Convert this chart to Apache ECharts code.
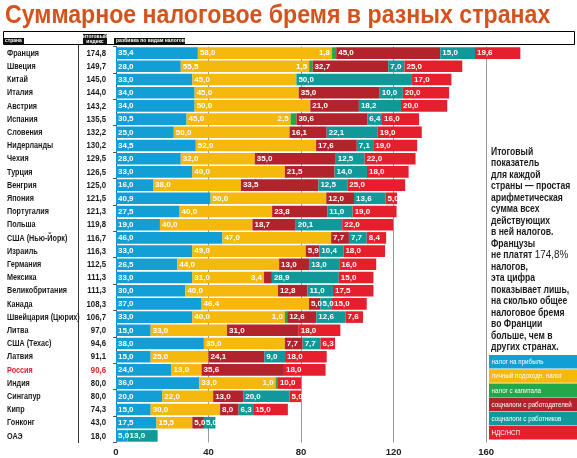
<!DOCTYPE html>
<html><head><meta charset="utf-8">
<script src="https://cdn.jsdelivr.net/npm/echarts@6/dist/echarts.min.js"></script>
<style>html,body{margin:0;padding:0;background:#fff}#c{width:577px;height:458px}</style>
</head><body><div id="c"></div>
<script>
const countries = ['Франция','Швеция','Китай','Италия','Австрия','Испания','Словения','Нидерланды','Чехия','Турция','Венгрия','Япония','Португалия','Польша','США (Нью-Йорк)','Израиль','Германия','Мексика','Великобритания','Канада','Швейцария (Цюрих)','Литва','США (Техас)','Латвия','Россия','Индия','Сингапур','Кипр','Гонконг','ОАЭ'];
const totals = [174.8,149.7,145.0,144.0,143.2,135.5,132.2,130.2,129.5,126.5,125.0,121.5,121.3,119.8,116.7,116.3,112.5,111.3,111.3,108.3,106.7,97.0,94.6,91.1,90.6,80.0,80.0,74.3,43.0,18.0];
const profitTax   = [35.4,28.0,33.0,34.0,34.0,30.5,25.0,34.5,28.0,33.0,16.0,40.9,27.5,19.0,46.0,33.0,26.5,33.0,30.0,37.0,33.0,15.0,38.0,15.0,24.0,36.0,20.0,15.0,17.5,5.0];
const incomeTax   = [58.0,55.5,45.0,45.0,50.0,45.0,50.0,52.0,32.0,40.0,38.0,50.0,40.0,40.0,47.0,49.0,44.0,31.0,40.0,46.4,40.0,33.0,35.0,25.0,13.0,33.0,22.0,30.0,15.5,0];
const capitalTax  = [1.8,1.5,0,0,0,2.5,0,0,0,0,0,0,0,0,0,0,0,0,0,0,1.0,0,0,0,0,1.0,0,0,0,0];
const employerTax = [45.0,32.7,0,35.0,21.0,30.6,16.1,17.6,35.0,21.5,33.5,12.0,23.8,18.7,7.7,5.9,13.0,3.4,12.8,5.0,12.6,31.0,7.7,24.1,35.6,0,13.0,8.0,5.0,0];
const employeeTax = [15.0,7.0,50.0,10.0,18.2,6.4,22.1,7.1,12.5,14.0,12.5,13.6,11.0,20.1,7.7,10.4,13.0,28.9,11.0,5.0,12.6,0,7.7,9.0,0,0,20.0,6.3,5.0,13.0];
const vatTax      = [19.6,25.0,17.0,20.0,20.0,16.0,19.0,19.0,22.0,18.0,25.0,5.0,19.0,22.0,8.4,18.0,16.0,15.0,17.5,15.0,7.6,18.0,6.3,18.0,18.0,10.0,5.0,15.0,0,0];
const seriesNames = ['налог на прибыль','личный подоходн. налог','налог с капитала','соцналоги с работодателей','соцналоги с работников','НДС/НСП'];
const xTicks = [0,40,80,120,160];
const note = ['Итоговый','показатель','для каждой','страны — простая','арифметическая','сумма всех','действующих','в ней налогов.','Французы','не платят {b|174,8%}','налогов,','эта цифра','показывает лишь,','на сколько общее','налоговое бремя','во Франции','больше, чем в','других странах.'];

const colors = ['#129fd6','#f5b80c','#20a84b','#b3232b','#11999a','#e5202c'];
const seriesData = [profitTax, incomeTax, capitalTax, employerTax, employeeTax, vatTax];
const FONT = '"Liberation Sans",Arial,sans-serif';
const fmt = v => v.toFixed(1).replace('.', ',');

const series = seriesData.map((arr, si) => ({
  name: seriesNames[si],
  type: 'bar',
  stack: 'tax',
  barCategoryGap: '12%',
  itemStyle: { color: colors[si] },
  label: {
    show: true, position: 'insideLeft', distance: 2,
    color: '#fff', fontFamily: FONT, fontWeight: 'bold', fontSize: 8,
    formatter: p => fmt(p.value)
  },
  data: arr.map(v => {
    if (!v) return { value: 0, label: { show: false } };
    if (v < 4) return { value: v, label: { position: 'left', distance: 2 } };
    return v;
  })
}));

// table column (country name + total) placed through the category axis
series.push({
  type: 'custom',
  silent: true,
  clip: false,
  encode: { x: 0, y: 1 },
  data: countries.map((c, i) => [0, i]),
  renderItem: (params, api) => {
    const i = api.value(1);
    const y = api.coord([0, i])[1];
    const col = countries[i] === 'Россия' ? '#d8232e' : '#1a1a1a';
    return {
      type: 'group',
      children: [
        { type: 'text', x: 7, y: y, scaleX: 0.76, style: { text: countries[i], fill: col, font: 'bold 9.5px ' + FONT, verticalAlign: 'middle', align: 'left' } },
        { type: 'text', x: 106, y: y, scaleX: 0.82, style: { text: fmt(totals[i]), fill: col, font: 'bold 9.5px ' + FONT, verticalAlign: 'middle', align: 'right' } }
      ]
    };
  }
});

const g = [];
g.push({ type: 'text', x: 5, y: 3, scaleX: 0.89, style: { text: 'Суммарное налоговое бремя в разных странах', fill: '#d4521c', font: 'bold 26px ' + FONT } });
g.push({ type: 'rect', shape: { x: 3.5, y: 31.5, width: 571, height: 13 }, style: { fill: 'none', stroke: '#000', lineWidth: 1 } });
g.push({ type: 'rect', shape: { x: 4, y: 38, width: 20, height: 6 }, style: { fill: '#111' } });
g.push({ type: 'text', x: 5, y: 38.5, style: { text: 'страна', fill: '#fff', font: 'bold 5px ' + FONT } });
g.push({ type: 'rect', shape: { x: 83, y: 34, width: 24, height: 10 }, style: { fill: '#111' } });
g.push({ type: 'text', x: 95, y: 34, style: { text: 'итоговый\nиндекс', fill: '#fff', font: 'bold 5px ' + FONT, align: 'center', lineHeight: 5 } });
g.push({ type: 'rect', shape: { x: 114, y: 38, width: 71, height: 6 }, style: { fill: '#111' } });
g.push({ type: 'text', x: 116, y: 38.5, style: { text: 'разбивка по видам налогов', fill: '#fff', font: 'bold 5px ' + FONT } });
g.push({ type: 'line', shape: { x1: 78.5, y1: 45, x2: 78.5, y2: 443 }, style: { stroke: '#333', lineWidth: 1 } });
g.push({ type: 'text', x: 491, y: 146, scaleX: 0.86, style: { text: note.join('\n'), fill: '#1a1a1a', font: 'bold 10px ' + FONT, lineHeight: 11.5,
  rich: { b: { fontSize: 11.5, fontWeight: 'normal', fill: '#1a1a1a', fontFamily: FONT, lineHeight: 11.5 } } } });
seriesNames.forEach((n, i) => {
  const y = 355 + i * 14.2;
  g.push({ type: 'rect', shape: { x: 489, y: y, width: 88, height: 13.6 }, style: { fill: colors[i] } });
  g.push({ type: 'text', x: 491.5, y: y + 7, scaleX: 0.78, style: { text: n, fill: '#fff', font: '8px ' + FONT, verticalAlign: 'middle' } });
});

const chart = echarts.init(document.getElementById('c'), null, { renderer: 'canvas' });
chart.setOption({
  animation: false,
  grid: { left: 116, top: 46.5, width: 460, height: 396 },
  xAxis: {
    type: 'value', min: 0, max: 198, interval: 40,
    axisLine: { show: false }, axisTick: { show: false },
    splitLine: { show: true, showMaxLine: false, lineStyle: { color: '#9a9a9a', width: 1 } },
    axisLabel: {
      margin: 5, color: '#222', fontFamily: FONT, fontWeight: 'bold', fontSize: 9.5,
      formatter: v => (xTicks.indexOf(v) >= 0 ? String(v) : '')
    }
  },
  yAxis: {
    type: 'category', inverse: true, data: countries,
    axisLine: { show: true, lineStyle: { color: '#555' } },
    axisTick: { show: true, length: 3, lineStyle: { color: '#555' } },
    axisLabel: { show: false }
  },
  series: series,
  graphic: g
});
</script></body></html>
